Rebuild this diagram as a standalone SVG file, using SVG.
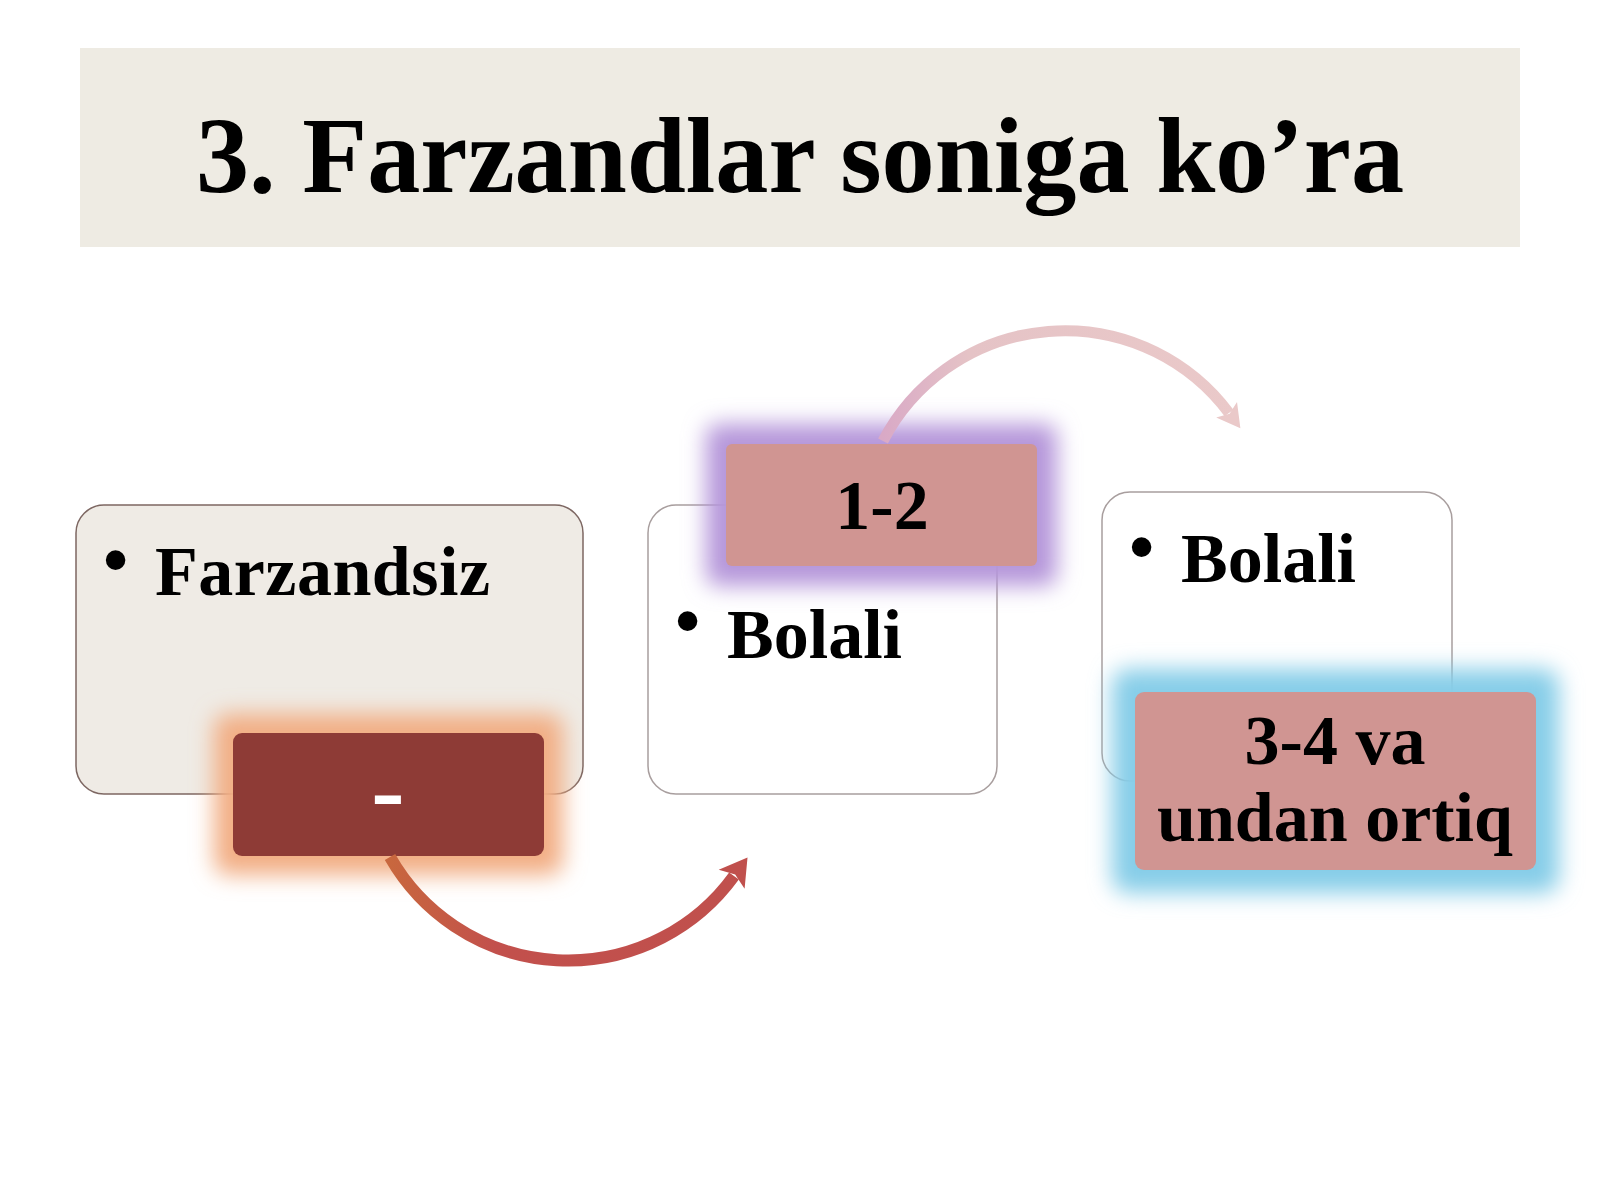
<svg xmlns="http://www.w3.org/2000/svg" width="1600" height="1200" viewBox="0 0 1600 1200">
<defs>
<style>
.t{font-family:"Liberation Serif","Times New Roman",serif;font-weight:bold;fill:#000}
.b{font-family:"Liberation Sans",Arial,sans-serif;fill:#000}
.box{stroke-width:1.5}
</style>
<filter id="blur" x="-30%" y="-30%" width="160%" height="160%"><feGaussianBlur stdDeviation="11"/></filter>
<linearGradient id="g1" gradientUnits="userSpaceOnUse" x1="390" y1="860" x2="745" y2="860">
<stop offset="0" stop-color="#C8673E"/><stop offset="0.3" stop-color="#C2504C"/><stop offset="1" stop-color="#C0504D"/>
</linearGradient>
<linearGradient id="g2" gradientUnits="userSpaceOnUse" x1="883" y1="440" x2="1238" y2="428">
<stop offset="0" stop-color="#D9A9C6"/><stop offset="0.25" stop-color="#E5C3C6"/><stop offset="1" stop-color="#EAC9C9"/>
</linearGradient>
<marker id="a1" markerUnits="userSpaceOnUse" markerWidth="40" markerHeight="40" refX="0" refY="0" orient="auto" overflow="visible">
<path d="M-4,-16 L23,0 L-4,16 L2,0 z" fill="#C0504D"/>
</marker>
<marker id="a2" markerUnits="userSpaceOnUse" markerWidth="40" markerHeight="40" refX="0" refY="0" orient="auto" overflow="visible">
<path d="M-4,-13 L19,0 L-4,13 L1,0 z" fill="#EAC9C9"/>
</marker>
</defs>
<rect width="1600" height="1200" fill="#FFFFFF"/>
<g id="title">
<rect x="80" y="48" width="1440" height="199" fill="#EEEBE3"/>
<text class="t" x="800" y="192" font-size="107" text-anchor="middle" textLength="1208" lengthAdjust="spacingAndGlyphs">3. Farzandlar soniga ko’ra</text>
</g>
<g id="node-farzandsiz">
<rect class="box" x="76" y="505" width="507" height="289" rx="28" fill="#EFEBE5" stroke="#7D6762"/>
<text class="b" x="103" y="584" font-size="72">•</text>
<text class="t" x="155" y="595" font-size="70" letter-spacing="0.5">Farzandsiz</text>
</g>
<g id="node-dash">
<rect x="214" y="714" width="349" height="161" rx="14" fill="#F2AE84" filter="url(#blur)"/>
<rect x="233" y="733" width="311" height="123" rx="9" fill="#8E3B36"/>
<text x="388" y="823" font-size="100" text-anchor="middle" font-family="Liberation Serif,serif" font-weight="bold" fill="#FFFFFF">-</text>
</g>
<g id="node-bolali-1">
<rect class="box" x="648" y="505" width="349" height="289" rx="28" fill="#FFFFFF" stroke="#A89E9E"/>
<text class="b" x="675" y="645" font-size="72">•</text>
<text class="t" x="727" y="658" font-size="70">Bolali</text>
</g>
<g id="node-1-2">
<rect x="706" y="424" width="351" height="162" rx="12" fill="#B596DA" filter="url(#blur)"/>
<rect x="726" y="444" width="311" height="122" rx="6" fill="#D09592"/>
<text class="t" x="882" y="529" font-size="70" text-anchor="middle" fill="#1E0A0A">1-2</text>
</g>
<g id="node-bolali-2">
<rect class="box" x="1102" y="492" width="350" height="289" rx="28" fill="#FFFFFF" stroke="#A89E9E"/>
<text class="b" x="1129" y="571" font-size="72">•</text>
<text class="t" x="1181" y="582" font-size="70">Bolali</text>
</g>
<g id="node-3-4">
<rect x="1112" y="669" width="447" height="224" rx="16" fill="#86CDE8" filter="url(#blur)"/>
<rect x="1135" y="692" width="401" height="178" rx="9" fill="#D09592"/>
<text class="t" x="1335" y="764" font-size="70" text-anchor="middle" fill="#1E0A0A">3-4 va</text>
<text class="t" x="1335" y="841" font-size="70" text-anchor="middle" fill="#1E0A0A">undan ortiq</text>
</g>
<g id="connectors" fill="none">
<path d="M390,857 A205,205 0 0 0 734,876" stroke="url(#g1)" stroke-width="12" marker-end="url(#a1)"/>
<path d="M883,441 A205,205 0 0 1 1229,413" stroke="url(#g2)" stroke-width="11" marker-end="url(#a2)"/>
</g>
</svg>
